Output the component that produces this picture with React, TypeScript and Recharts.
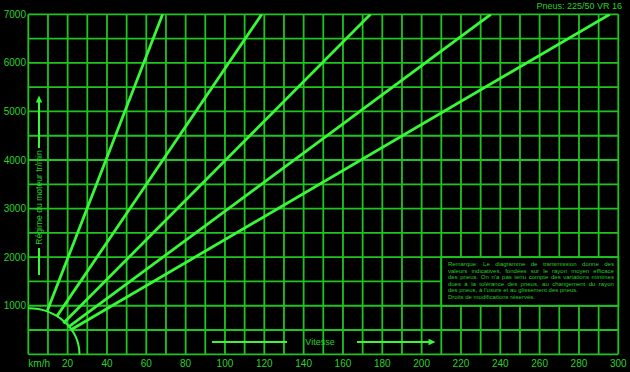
import React from 'react';
import {
  LineChart,
  Line,
  XAxis,
  YAxis,
  CartesianGrid,
  ReferenceArea,
  Customized,
} from 'recharts';

// Grid positions (every 10 km/h and every 500 rpm)
const speedGrid = [
  0, 10, 20, 30, 40, 50, 60, 70, 80, 90, 100, 110, 120, 130, 140, 150, 160,
  170, 180, 190, 200, 210, 220, 230, 240, 250, 260, 270, 280, 290, 300,
];
const rpmGrid = [
  0, 500, 1000, 1500, 2000, 2500, 3000, 3500, 4000, 4500, 5000, 5500, 6000,
  6500, 7000,
];

// Labelled ticks
const speedLabels = [
  20, 40, 60, 80, 100, 120, 140, 160, 180, 200, 220, 240, 260, 280, 300,
];
const rpmLabels = [1000, 2000, 3000, 4000, 5000, 6000, 7000];

// Gear lines: engine speed (tr/min) against road speed (km/h)
const gear1 = [
  { speed: 9.7, rpm: 900 },
  { speed: 68.3, rpm: 7000 },
];
const gear2 = [
  { speed: 14.4, rpm: 776 },
  { speed: 118.7, rpm: 7000 },
];
const gear3 = [
  { speed: 17.8, rpm: 640 },
  { speed: 174, rpm: 7000 },
];
const gear4 = [
  { speed: 20.3, rpm: 557 },
  { speed: 235.2, rpm: 7000 },
];
const gear5 = [
  { speed: 21.5, rpm: 501 },
  { speed: 295.7, rpm: 7000 },
];
const gears = [gear1, gear2, gear3, gear4, gear5];

// Quarter arc near the origin (km/h radius, rpm radius)
const arcSpeed = 26;
const arcRpm = 950;

// Note panel extent
const noteSpeed = [210, 300];
const noteRpm = [1000, 2000];

const tyreLabel = 'Pneus: 225/50 VR 16';
const speedTitle = 'Vitesse';
const rpmTitle = 'Régime du moteur tr/min';
const unitLabel = 'km/h';

const noteJustified = [
  'Remarque: Le diagramme de transmission donne des',
  'valeurs indicatives, fondées sur le rayon moyen efficace',
  'des pneus. On n\u2019a pas tenu compte des variations minimes',
  'dues à la tolérance des pneus, au changement du rayon',
];
const noteLeft = [
  'des pneus, à l\u2019usure et au glissement des pneus.',
  'Droits de modifications réservés.',
];

const FONT = '"Liberation Sans", Arial, sans-serif';
const GRID = '#20c420';
const LINE = '#38f838';
const TEXT = '#2ad22a';
const NOTE = '#28c828';

const SpeedTick = (props: any) => {
  const { x, y, payload } = props;
  const v = payload.value;
  if (v === 0) {
    return (
      <text x={x} y={y} dy={12.7} textAnchor="start" fill={TEXT} fontSize={10} fontFamily={FONT}>
        {unitLabel}
      </text>
    );
  }
  if (!speedLabels.includes(v)) return <g />;
  return (
    <text x={x} y={y} dy={12.7} textAnchor="middle" fill={TEXT} fontSize={10} fontFamily={FONT}>
      {v}
    </text>
  );
};

const RpmTick = (props: any) => {
  const { x, y, payload } = props;
  const v = payload.value;
  if (!rpmLabels.includes(v)) return <g />;
  return (
    <text x={x} y={y} dx={-2.3} dy={3.6} textAnchor="end" fill={TEXT} fontSize={10} fontFamily={FONT}>
      {v}
    </text>
  );
};

const ArcShape = (props: any) => {
  const { x, y, width, height } = props;
  return (
    <path
      d={`M${x},${y} A${width},${height} 0 0 1 ${x + width},${y + height}`}
      fill="none"
      stroke={LINE}
      strokeWidth={2}
    />
  );
};

const NoteShape = (props: any) => {
  const { x, y, width, height } = props;
  const lineStyle: React.CSSProperties = {
    whiteSpace: 'nowrap',
    height: '6.5px',
  };
  return (
    <g>
      <rect x={x} y={y} width={width} height={height} fill="#000" stroke={GRID} strokeWidth={1.8} />
      <foreignObject x={x + 6.6} y={y + 4} width={width - 11} height={height - 5}>
        <div
          style={{
            fontFamily: FONT,
            fontSize: '6px',
            lineHeight: '6.5px',
            color: NOTE,
            margin: 0,
            padding: 0,
          }}
        >
          {noteJustified.map((t) => (
            <div key={t} style={{ ...lineStyle, textAlign: 'justify', textAlignLast: 'justify' }}>
              {t}
            </div>
          ))}
          {noteLeft.map((t) => (
            <div key={t} style={{ ...lineStyle, textAlign: 'left' }}>
              {t}
            </div>
          ))}
        </div>
      </foreignObject>
    </g>
  );
};

const Decorations = () => (
  <g fontFamily={FONT}>
    {/* vertical title with arrow */}
    <line x1={39} y1={101} x2={39} y2={148} stroke={LINE} strokeWidth={2} />
    <path d="M35.8,102.5 L39,95.5 L42.2,102.5 Z" fill={LINE} />
    <text
      transform="translate(39,197.5) rotate(-90)"
      textAnchor="middle"
      dy={3}
      fill={TEXT}
      fontSize={8.6}
    >
      {rpmTitle}
    </text>
    <line x1={39} y1={248} x2={39} y2={275} stroke={LINE} strokeWidth={2} />

    {/* horizontal title with arrow */}
    <line x1={212} y1={342} x2={287} y2={342} stroke={LINE} strokeWidth={2} />
    <text x={320} y={345.3} textAnchor="middle" fill={TEXT} fontSize={9}>
      {speedTitle}
    </text>
    <line x1={357} y1={342} x2={429} y2={342} stroke={LINE} strokeWidth={2} />
    <path d="M428.5,338.8 L435.5,342 L428.5,345.2 Z" fill={LINE} />

    {/* tyre size */}
    <text x={622} y={9} textAnchor="end" fill={TEXT} fontSize={9}>
      {tyreLabel}
    </text>
  </g>
);

export default function App() {
  return (
    <div style={{ position: 'absolute', left: 0, top: 0, width: 630, height: 372, background: '#000' }}>
      <LineChart
        width={630}
        height={372}
        margin={{ top: 14.3, right: 11.7, bottom: 0, left: 0 }}
        style={{ background: '#000' }}
      >
        <CartesianGrid stroke={GRID} strokeWidth={1.8} fill="none" />
        <XAxis
          dataKey="speed"
          type="number"
          domain={[0, 300]}
          ticks={speedGrid}
          interval={0}
          height={17.7}
          axisLine={false}
          tickLine={false}
          tickSize={0}
          tickMargin={0}
          tick={<SpeedTick />}
          allowDataOverflow
        />
        <YAxis
          type="number"
          domain={[0, 7000]}
          ticks={rpmGrid}
          interval={0}
          width={28.3}
          axisLine={false}
          tickLine={false}
          tickSize={0}
          tickMargin={0}
          tick={<RpmTick />}
          allowDataOverflow
        />
        <ReferenceArea
          x1={0}
          x2={arcSpeed}
          y1={0}
          y2={arcRpm}
          shape={<ArcShape />}
          ifOverflow="visible"
        />
        <ReferenceArea
          x1={noteSpeed[0]}
          x2={noteSpeed[1]}
          y1={noteRpm[0]}
          y2={noteRpm[1]}
          shape={<NoteShape />}
          ifOverflow="visible"
        />
        {gears.map((g, i) => (
          <Line
            key={i}
            data={g}
            dataKey="rpm"
            type="linear"
            dot={false}
            stroke={LINE}
            strokeWidth={2.8}
            isAnimationActive={false}
          />
        ))}
        <Customized component={<Decorations />} />
      </LineChart>
    </div>
  );
}
